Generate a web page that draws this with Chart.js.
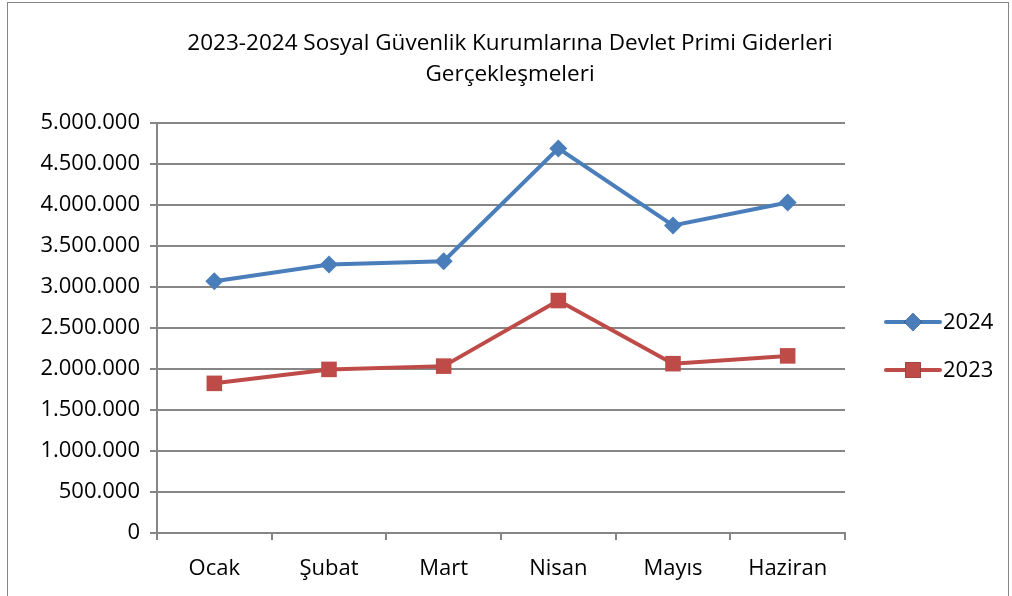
<!DOCTYPE html>
<html>
<head>
<meta charset="utf-8">
<script src="https://cdn.jsdelivr.net/npm/chart.js@4.4.1/dist/chart.umd.min.js"></script>
<style>
  html, body { margin: 0; padding: 0; background: #fff; }
  #wrap { position: relative; width: 1012px; height: 596px; }
  #frame { position: absolute; left: 7px; top: 2px; width: 1002px; height: 600px; border: 1px solid #868686; box-sizing: border-box; pointer-events: none; }
</style>
</head>
<body>
<div id="wrap">
  <canvas id="lineChart" width="1012" height="596"></canvas>
  <div id="frame"></div>
</div>
<script>
var months = ["Ocak", "Şubat", "Mart", "Nisan", "Mayıs", "Haziran"];
var values2024 = [3070000, 3275000, 3315000, 4690000, 3750000, 4030000];
var values2023 = [1825000, 1995000, 2035000, 2835000, 2065000, 2160000];
var titleLines = ["2023-2024 Sosyal Güvenlik Kurumlarına Devlet Primi Giderleri", "Gerçekleşmeleri"];

var fontFamily = "'Open Sans', 'Noto Sans', sans-serif";

function formatTr(v) {
    return String(v).replace(/\B(?=(\d{3})+(?!\d))/g, ".");
}

// title + legend drawn by hand, Excel style
var excelDecor = {
    id: 'excelDecor',
    afterDraw: function(chart) {
        var ctx = chart.ctx;
        ctx.save();
        ctx.fillStyle = "#000";
        ctx.textAlign = "center";
        ctx.textBaseline = "middle";
        ctx.font = "22.5px " + fontFamily;
        ctx.fillText(titleLines[0], 510, 44);
        ctx.fillText(titleLines[1], 510, 75);

        // legend
        var items = chart.data.datasets;
        for (var i = 0; i < items.length; i++) {
            var ds = items[i];
            var y = 322 + i * 48;
            ctx.strokeStyle = ds.borderColor;
            ctx.lineWidth = 4;
            ctx.lineCap = "round";
            ctx.beginPath();
            ctx.moveTo(886, y);
            ctx.lineTo(940, y);
            ctx.stroke();
            Chart.helpers.drawPoint(ctx, {
                pointStyle: ds.pointStyle,
                radius: ds.pointRadius,
                borderWidth: 0
            }, 913, y);
            ctx.fillStyle = ds.backgroundColor;
            ctx.fill();
            ctx.fillStyle = "#000";
            ctx.textAlign = "left";
            ctx.font = "22px " + fontFamily;
            ctx.fillText(ds.label, 943, y + 1);
        }
        ctx.restore();
    }
};

var ctx = document.getElementById("lineChart");
var LineGraph = new Chart(ctx, {
    type: 'line',
    data: {
        labels: months,
        datasets: [
            {
                label: "2024",
                data: values2024,
                borderColor: "#4A7EBB",
                backgroundColor: "#4A7EBB",
                borderWidth: 4,
                pointStyle: "rectRot",
                pointRadius: 9,
                pointHoverRadius: 9,
                pointBorderWidth: 0,
                fill: false,
                lineTension: 0
            },
            {
                label: "2023",
                data: values2023,
                borderColor: "#BE4B48",
                backgroundColor: "#BE4B48",
                borderWidth: 4,
                pointStyle: "rect",
                pointRadius: 11,
                pointHoverRadius: 11,
                pointBorderWidth: 0,
                fill: false,
                lineTension: 0
            }
        ]
    },
    options: {
        responsive: false,
        animation: false,
        events: [],
        layout: { padding: { left: 10, right: 167, top: 123, bottom: 0 } },
        plugins: {
            legend: { display: false },
            title: { display: false },
            tooltip: { enabled: false }
        },
        scales: {
            x: {
                offset: true,
                grid: {
                    offset: true,
                    drawOnChartArea: false,
                    drawTicks: true,
                    tickLength: 7,
                    color: "#868686",
                    lineWidth: 2
                },
                border: { color: "#868686", width: 2 },
                ticks: {
                    color: "#000",
                    padding: 16,
                    font: { family: fontFamily, size: 22 }
                },
                afterFit: function(scale) { scale.height = 63; }
            },
            y: {
                min: 0,
                max: 5000000,
                grid: {
                    color: "#868686",
                    lineWidth: 2,
                    tickLength: 7
                },
                border: { color: "#868686", width: 2 },
                ticks: {
                    stepSize: 500000,
                    color: "#000",
                    padding: 10,
                    font: { family: fontFamily, size: 22 },
                    callback: function(v) { return formatTr(v); }
                },
                afterFit: function(scale) { scale.width = 147; }
            }
        }
    },
    plugins: [excelDecor]
});
</script>
</body>
</html>
